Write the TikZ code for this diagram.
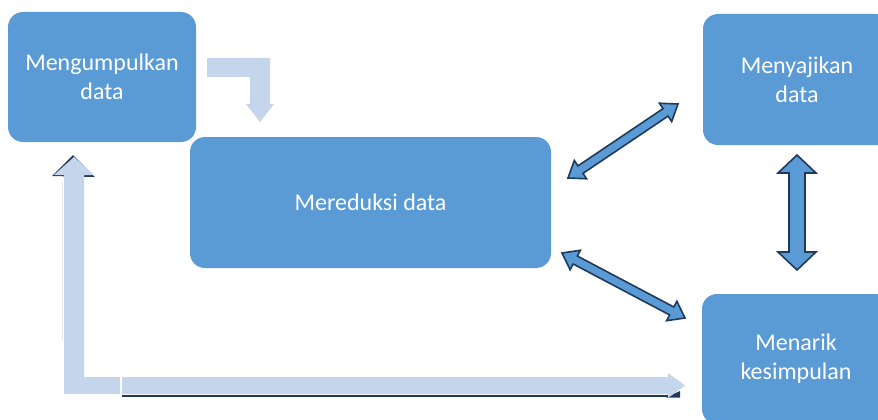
\documentclass[tikz,border=0pt]{standalone}
\usepackage{fontspec}
\setmainfont{Carlito}
\usetikzlibrary{calc}
\definecolor{boxblue}{HTML}{5B9BD5}
\definecolor{paleblue}{HTML}{C5D5EB}
\definecolor{darkline}{HTML}{203A5C}
% fat double-headed arrow: from, to, shaft half width, head half width, head length
\newcommand{\dblarrow}[5]{%
  \draw[fat] (#1) -- ($(#1)!#5!(#2)!#4!90:(#2)$) -- ($(#1)!#5!(#2)!#3!90:(#2)$)
    -- ($(#2)!#5!(#1)!#3!-90:(#1)$) -- ($(#2)!#5!(#1)!#4!-90:(#1)$) -- (#2)
    -- ($(#2)!#5!(#1)!#4!90:(#1)$) -- ($(#2)!#5!(#1)!#3!90:(#1)$)
    -- ($(#1)!#5!(#2)!#3!-90:(#2)$) -- ($(#1)!#5!(#2)!#4!-90:(#2)$) -- cycle;}

\begin{document}
\begin{tikzpicture}[x=1pt,y=-1pt]
   \useasboundingbox (0,0) rectangle (878,420);
   \clip (0,0) rectangle (878,420);
   \tikzstyle{main}=[rectangle, rounded corners=15pt, fill=boxblue, text=white, align=center, inner sep=0pt, font=\fontsize{24}{29}\selectfont]
   \tikzstyle{fat}=[fill=boxblue, draw=darkline, line width=1.6pt, line join=miter]
   \tikzstyle{pale}=[fill=paleblue, draw=none]
   \node[main, minimum width=188pt, minimum height=130pt] (collect) at (102,77) {Mengumpulkan\\data};
   \node[main, minimum width=361pt, minimum height=131pt] (reduce) at (370.5,202.5) {Mereduksi data};
   \node[main, minimum width=188pt, minimum height=131pt] (present) at (797,79.5) {Menyajikan\\data};
   \node[main, minimum width=188pt, minimum height=130pt] (conclude) at (796,359) {Menarik\\kesimpulan};
   % bent arrow between collect and reduce
   \coordinate (bendtip) at (260,122);
   \fill[pale] (207,58) -- (270,58) -- (270,104) -- (274,104) -- (bendtip) -- (246,104) -- (250,104) -- (250,77) -- (207,77) -- cycle;
   % feedback arrow along the bottom
   \coordinate (uptip) at (74,157);
   \coordinate (righttip) at (685,385.5);
   \fill[darkline] (52,176) -- (73,155) -- (95,177) -- cycle;
   \fill[pale] (64,394) -- (64,175) -- (54,175) -- (uptip) -- (94,175) -- (84,175) -- (84,377) -- (120,377) -- (120,394) -- cycle;
   \draw[white!80!gray, line width=1pt] (62,182) -- (62,340);
   \draw[darkline, line width=2pt] (122,396) -- (668,396);
   \fill[darkline] (666,397.5) -- (680,391) -- (680,397.5) -- cycle;
   \fill[pale] (122,377) -- (668,377) -- (668,373) -- (righttip) -- (668,398) -- (668,394) -- (122,394) -- cycle;
   % double arrows
   \coordinate (a1) at (568,178);
   \coordinate (b1) at (678,104);
   \coordinate (a2) at (562,253);
   \coordinate (b2) at (685,318);
   \coordinate (a3) at (797,155);
   \coordinate (b3) at (797,270);
   \dblarrow{a1}{b1}{4.5pt}{11pt}{15pt}
   \dblarrow{a2}{b2}{4.5pt}{11pt}{15pt}
   \dblarrow{a3}{b3}{8pt}{19pt}{18pt}
\end{tikzpicture}
\end{document}
